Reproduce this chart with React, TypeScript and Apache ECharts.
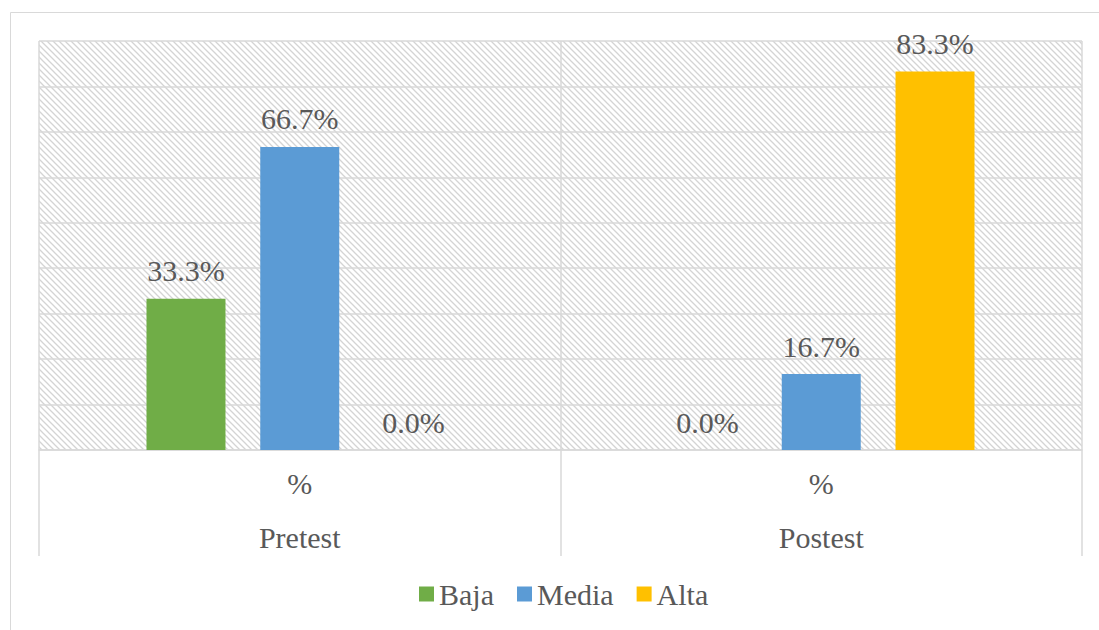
import React, { useEffect, useRef } from "react";
import * as echarts from "echarts";

const categories = ["Pretest", "Postest"];
const subLabel = "%";
const seriesNames = ["Baja", "Media", "Alta"];
const bajaValues = [33.3, 0.0];
const mediaValues = [66.7, 16.7];
const altaValues = [0.0, 83.3];
const colors = ["#70AD47", "#5B9BD5", "#FFC000"];

const FONT = "'Liberation Serif', 'Times New Roman', serif";
const TEXT = "#595959";
const LINE = "#d9d9d9";

const hatchSvg =
  '<svg xmlns="http://www.w3.org/2000/svg" width="6" height="6">' +
  '<rect width="6" height="6" fill="#ffffff"/>' +
  '<path d="M-1,-1 L7,7 M-1,5 L1,7 M5,-1 L7,1" stroke="#d4d4d4" stroke-width="1.3"/>' +
  "</svg>";
const hatchUrl = "data:image/svg+xml;charset=utf-8," + encodeURIComponent(hatchSvg);

export default function App() {
  const ref = useRef<HTMLDivElement>(null);
  useEffect(() => {
    if (!ref.current) return;
    const chart = echarts.init(ref.current, null, { renderer: "svg" });
    const values = [bajaValues, mediaValues, altaValues];
    chart.setOption({
      animation: false,
      backgroundColor: "#ffffff",
      textStyle: { fontFamily: FONT },
      graphic: [
        {
          type: "rect",
          shape: { x: 10.5, y: 12.5, width: 1200, height: 700 },
          style: { fill: "none", stroke: LINE, lineWidth: 1 },
          silent: true,
          z: -10,
        },
      ],
      grid: {
        left: 39,
        right: 17,
        top: 41,
        bottom: 180,
        show: true,
        borderWidth: 0,
        backgroundColor: {
          image: hatchUrl,
          repeat: "repeat",
          imageWidth: 6,
          imageHeight: 6,
        } as any,
      },
      legend: {
        data: seriesNames,
        left: 414,
        top: 574,
        icon: "rect",
        itemWidth: 15,
        itemHeight: 15,
        itemGap: 23,
        textStyle: { fontFamily: FONT, fontSize: 30, color: TEXT },
      },
      xAxis: {
        type: "category",
        data: categories,
        axisLine: { show: true, lineStyle: { color: LINE, width: 1.5 } },
        axisTick: { show: true, length: 106, lineStyle: { color: LINE, width: 1.5 } },
        splitLine: { show: true, lineStyle: { color: LINE, width: 1.5 } },
        axisLabel: {
          margin: 6,
          fontFamily: FONT,
          formatter: (v: string) => `{a|${subLabel}}\n{b|${v}}`,
          rich: {
            a: { fontFamily: FONT, fontSize: 30, color: TEXT, lineHeight: 54 },
            b: { fontFamily: FONT, fontSize: 30, color: TEXT, lineHeight: 54 },
          },
        },
      },
      yAxis: {
        type: "value",
        min: 0,
        max: 90,
        interval: 10,
        axisLabel: { show: false },
        axisLine: { show: false },
        axisTick: { show: false },
        splitLine: { show: true, lineStyle: { color: LINE, width: 1.5 } },
      },
      series: seriesNames.map((name, i) => ({
        name,
        type: "bar",
        data: values[i],
        barWidth: 79,
        barGap: "44%",
        itemStyle: { color: colors[i] },
        label: {
          show: true,
          position: "top",
          distance: 13,
          fontFamily: FONT,
          fontSize: 30,
          color: TEXT,
          formatter: (p: any) => Number(p.value).toFixed(1) + "%",
        },
      })),
    });
    return () => chart.dispose();
  }, []);
  return (
    <div
      ref={ref}
      style={{ position: "fixed", left: 0, top: 0, width: 1099, height: 630 }}
    />
  );
}
